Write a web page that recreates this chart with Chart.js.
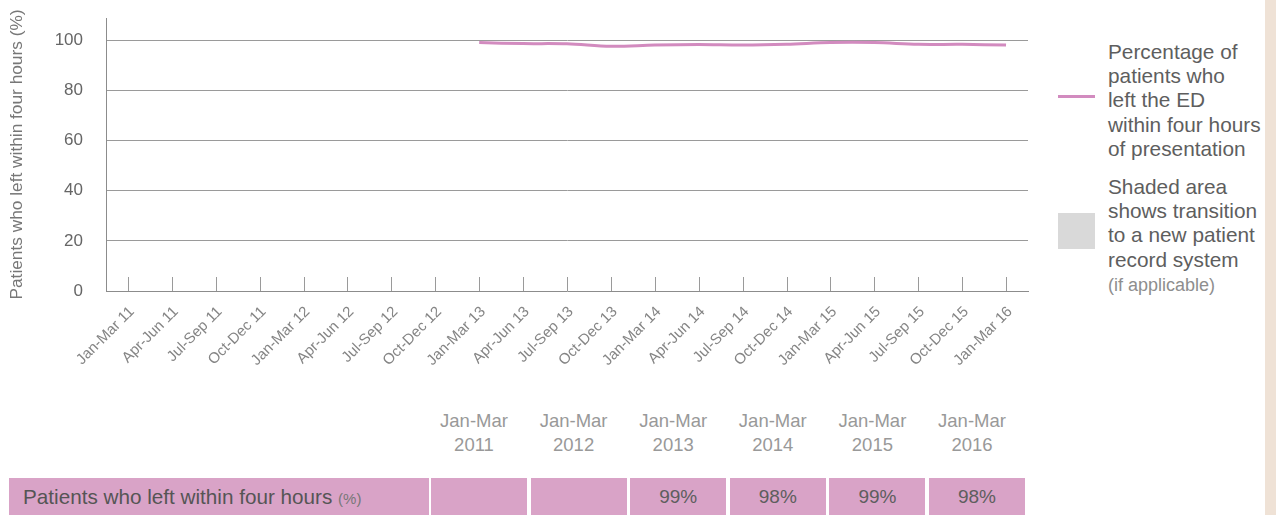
<!DOCTYPE html>
<html>
<head>
<meta charset="utf-8">
<script src="https://cdn.jsdelivr.net/npm/chart.js@4.4.1/dist/chart.umd.min.js"></script>
<style>
  html, body { margin: 0; padding: 0; }
  body {
    width: 1276px; height: 515px; overflow: hidden; position: relative;
    background: #fff; font-family: "Liberation Sans", Arial, sans-serif;
  }
  #chartBox { position: absolute; left: 0; top: 0; width: 1040px; height: 385px; }
  .strip { position: absolute; left: 1265px; top: 0; width: 11px; height: 515px; background: #efe2d6; }
  .legend-line { position: absolute; left: 1058px; top: 95px; width: 37px; height: 3px; background: #d28bbf; }
  .legend-box { position: absolute; left: 1058px; top: 213px; width: 37px; height: 36px; background: #d9d9d9; }
  .legend-text { position: absolute; left: 1108px; color: #5e5e5e; font-size: 20.8px; line-height: 24.2px; white-space: nowrap; }
  .legend-text .small { font-size: 18px; color: #8e8e8e; }
  .yr { position: absolute; top: 409px; width: 100px; text-align: center; color: #999; font-size: 18.5px; line-height: 23.5px; }
  .cell { position: absolute; top: 478px; height: 37px; background: #d9a3c7; color: #5e5e5e; font-size: 19px; line-height: 38px; text-align: center; }
  .cell.label { text-align: left; font-size: 20.7px; color: #555; }
  .cell.label .unit { font-size: 15px; color: #777; }
</style>
</head>
<body>
<div id="chartBox"><canvas id="c" width="1040" height="385"></canvas></div>
<div class="strip"></div>
<div class="legend-line"></div>
<div class="legend-text" style="top:40px">Percentage of<br>patients who<br>left the ED<br>within four hours<br>of presentation</div>
<div class="legend-box"></div>
<div class="legend-text" style="top:175px">Shaded area<br>shows transition<br>to a new patient<br>record system<br><span class="small">(if applicable)</span></div>
<div id="table"></div>

<script>
// Quarterly reporting periods on the x axis
const quarters = [
  'Jan-Mar 11', 'Apr-Jun 11', 'Jul-Sep 11', 'Oct-Dec 11',
  'Jan-Mar 12', 'Apr-Jun 12', 'Jul-Sep 12', 'Oct-Dec 12',
  'Jan-Mar 13', 'Apr-Jun 13', 'Jul-Sep 13', 'Oct-Dec 13',
  'Jan-Mar 14', 'Apr-Jun 14', 'Jul-Sep 14', 'Oct-Dec 14',
  'Jan-Mar 15', 'Apr-Jun 15', 'Jul-Sep 15', 'Oct-Dec 15',
  'Jan-Mar 16'
];

// Percentage of patients who left the ED within four hours (no data before 2013)
const leftWithinFourHours = [
  null, null, null, null,
  null, null, null, null,
  99, 98.6, 98.5, 97.5,
  98, 98.2, 98.0, 98.3,
  99, 99, 98.3, 98.3,
  98
];

// Summary table columns: header lines and the quarter each column reports
const yearHeaders = [
  ['Jan-Mar', '2011'], ['Jan-Mar', '2012'], ['Jan-Mar', '2013'],
  ['Jan-Mar', '2014'], ['Jan-Mar', '2015'], ['Jan-Mar', '2016']
];
const yearQuarters = ['Jan-Mar 11', 'Jan-Mar 12', 'Jan-Mar 13', 'Jan-Mar 14', 'Jan-Mar 15', 'Jan-Mar 16'];

const yTicks = [0, 20, 40, 60, 80, 100];
const FONT = '"Liberation Sans", Arial, sans-serif';

// Short upward tick marks on the category axis
const innerTicks = {
  id: 'innerTicks',
  afterDatasetsDraw(chart) {
    const x = chart.scales.x;
    const bottom = chart.chartArea.bottom;
    const ctx = chart.ctx;
    ctx.save();
    ctx.strokeStyle = '#9a9a9a';
    ctx.lineWidth = 1;
    for (let i = 0; i < quarters.length; i++) {
      const px = Math.round(x.getPixelForTick(i)) + 0.5;
      ctx.beginPath();
      ctx.moveTo(px, bottom);
      ctx.lineTo(px, bottom - 14);
      ctx.stroke();
    }
    ctx.restore();
  }
};

new Chart(document.getElementById('c'), {
  type: 'line',
  data: {
    labels: quarters,
    datasets: [{
      data: leftWithinFourHours,
      borderColor: '#d28bbf',
      borderWidth: 3,
      pointRadius: 0,
      tension: 0.35,
      fill: false
    }]
  },
  options: {
    responsive: false,
    animation: false,
    layout: { padding: { left: 4, top: 18, right: 12, bottom: 0 } },
    plugins: { legend: { display: false }, tooltip: { enabled: false } },
    scales: {
      x: {
        offset: true,
        grid: { display: false, drawTicks: false },
        border: { color: '#8c8c8c', width: 1 },
        ticks: {
          autoSkip: false, minRotation: 45, maxRotation: 45,
          color: '#858585', padding: 12, labelOffset: 4,
          font: { family: FONT, size: 15 }
        },
        afterFit(s) { s.height = 94; s.paddingLeft = 0; s.paddingRight = 0; }
      },
      y: {
        min: 0, max: 108.8,
        afterBuildTicks(s) { s.ticks = yTicks.map(v => ({ value: v })); },
        ticks: { color: '#666', padding: 23, font: { family: FONT, size: 17 } },
        grid: {
          drawTicks: false,
          color: c => (c.tick && c.tick.value === 0) ? 'rgba(0,0,0,0)' : '#9a9a9a'
        },
        border: { color: '#8c8c8c', width: 1 },
        title: {
          display: true,
          text: 'Patients who left within four hours (%)',
          color: '#777',
          font: { family: FONT, size: 17.3 },
          padding: { top: 3, bottom: 3 }
        },
        afterFit(s) { s.width = 102; s.paddingTop = 0; s.paddingBottom = 0; }
      }
    }
  },
  plugins: [innerTicks]
});

// Summary table beneath the chart
const table = document.getElementById('table');
const colLeft = 431, colStep = 99.6, colWidth = 96;

const label = document.createElement('div');
label.className = 'cell label';
label.style.left = '9px';
label.style.width = '406px';
label.style.paddingLeft = '14px';
label.innerHTML = 'Patients who left within four hours <span class="unit">(%)</span>';
table.appendChild(label);

yearHeaders.forEach((lines, k) => {
  const left = colLeft + k * colStep;
  const h = document.createElement('div');
  h.className = 'yr';
  h.style.left = (left + colWidth / 2 - 50 - 5) + 'px';
  h.innerHTML = lines.join('<br>');
  table.appendChild(h);

  const v = leftWithinFourHours[quarters.indexOf(yearQuarters[k])];
  const c = document.createElement('div');
  c.className = 'cell';
  c.style.left = left + 'px';
  c.style.width = colWidth + 'px';
  c.textContent = v == null ? '' : Math.round(v) + '%';
  table.appendChild(c);
});
</script>
</body>
</html>
